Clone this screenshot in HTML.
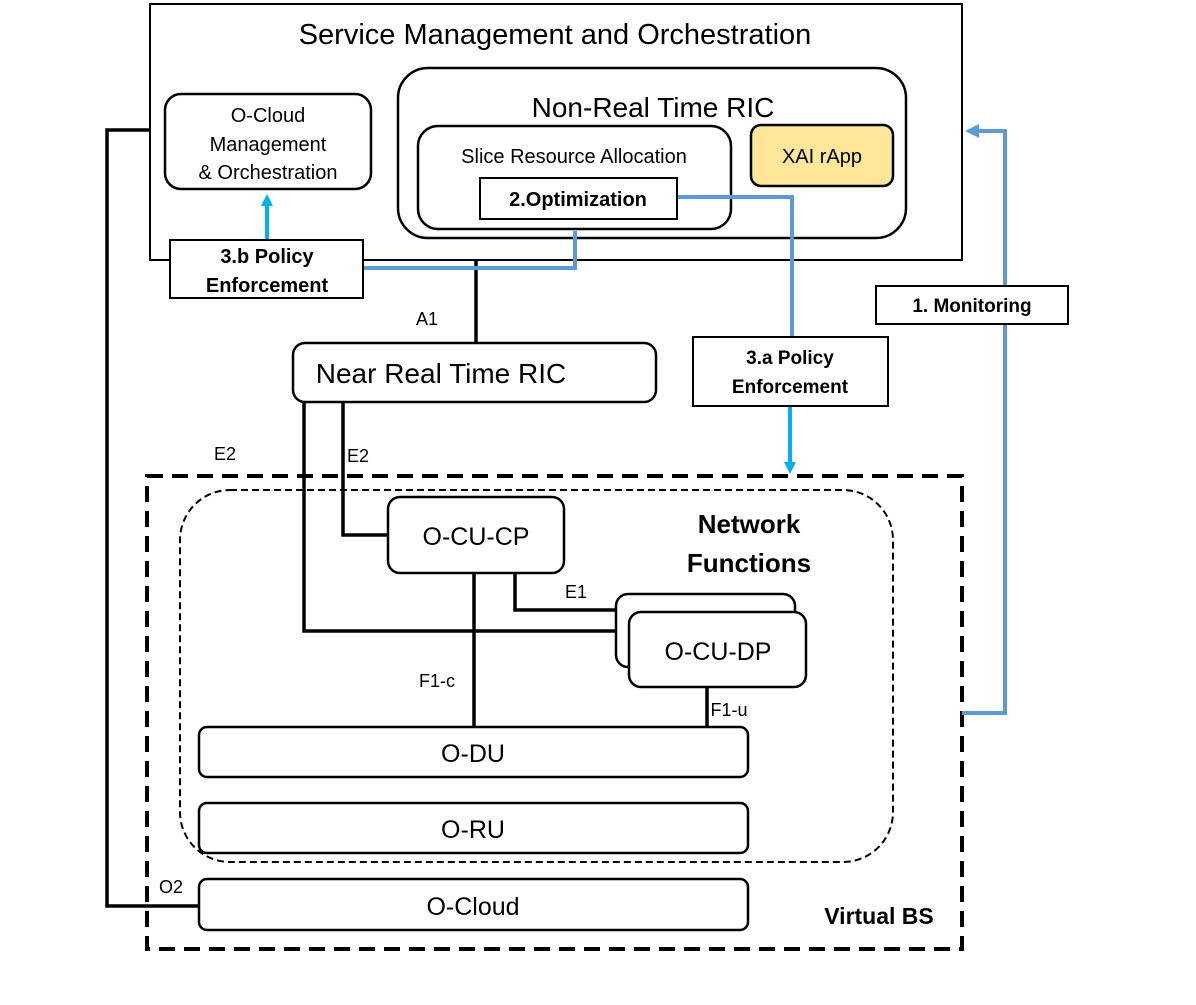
<!DOCTYPE html>
<html><head><meta charset="utf-8"><style>
html,body{margin:0;padding:0;background:#fff;}
svg{display:block;font-family:"Liberation Sans",sans-serif;}
</style></head><body>
<svg width="1196" height="1005" viewBox="0 0 1196 1005" xmlns="http://www.w3.org/2000/svg">
<defs>
<marker id="ac" markerWidth="12" markerHeight="12" refX="6" refY="6" orient="auto" markerUnits="userSpaceOnUse"><path d="M0,0 L12,6 L0,12 z" fill="#00B0F0"/></marker>
<marker id="ab" markerWidth="14" markerHeight="14" refX="7" refY="7" orient="auto" markerUnits="userSpaceOnUse"><path d="M0,0 L14,7 L0,14 z" fill="#5B9BD5"/></marker>
</defs>
<g fill="none" stroke="#000">
<rect x="150" y="4" width="812" height="256" stroke-width="2"/>
<rect x="165" y="94" width="206" height="95" rx="16" stroke-width="2.5"/>
<rect x="398" y="68" width="508" height="170" rx="30" stroke-width="2.5"/>
<rect x="418" y="126" width="313" height="103" rx="20" stroke-width="2.5"/>
<rect x="751" y="125" width="142" height="61" rx="10" fill="#FFE699" stroke-width="2.5"/>
<polyline points="150,130 107,130 107,906 199,906" stroke-width="3.5"/>
<line x1="476" y1="260" x2="476" y2="344" stroke-width="3.5"/>
<rect x="293" y="343" width="363" height="59" rx="12" stroke-width="2.5"/>
<rect x="147" y="476" width="815" height="473" stroke-width="4" stroke-dasharray="16,9"/>
<rect x="180" y="490" width="713" height="372" rx="50" stroke-width="2" stroke-dasharray="7,4"/>
<polyline points="304,402 304,631 617,631" stroke-width="3.5"/>
<polyline points="343,402 343,535 388,535" stroke-width="3.5"/>
<polyline points="515,573 515,610 615,610" stroke-width="3.5"/>
<line x1="474" y1="573" x2="474" y2="727" stroke-width="3.5"/>
<line x1="707" y1="687" x2="707" y2="727" stroke-width="3.5"/>
<rect x="388" y="497" width="176" height="76" rx="12" fill="#fff" stroke-width="2.5"/>
<rect x="616" y="594" width="179" height="73" rx="12" fill="#fff" stroke-width="2.5"/>
<rect x="629" y="612" width="177" height="75" rx="12" fill="#fff" stroke-width="2.5"/>
<rect x="199" y="727" width="549" height="50" rx="8" fill="#fff" stroke-width="2.5"/>
<rect x="199" y="803" width="549" height="50" rx="8" fill="#fff" stroke-width="2.5"/>
<rect x="199" y="879" width="549" height="51" rx="8" fill="#fff" stroke-width="2.5"/>
</g>
<g fill="none" stroke="#5B9BD5" stroke-width="4">
<polyline points="363,268 575,268 575,231"/>
<polyline points="677,197 792,197 792,337"/>
<polyline points="962,713 1005,713 1005,131 972,131" marker-end="url(#ab)"/>
</g>
<g stroke="#00B0F0" stroke-width="4">
<line x1="267" y1="240" x2="267" y2="200" marker-end="url(#ac)"/>
<line x1="790" y1="406" x2="790" y2="468" marker-end="url(#ac)"/>
</g>
<g fill="#fff" stroke="#000" stroke-width="2">
<rect x="480" y="178" width="197" height="41"/>
<rect x="170" y="240" width="193" height="58"/>
<rect x="693" y="337" width="195" height="69"/>
<rect x="876" y="286" width="192" height="38"/>
</g>
<g fill="#000" text-anchor="middle">
<text x="555" y="44" font-size="29">Service Management and Orchestration</text>
<text x="268" y="122" font-size="20">O-Cloud</text>
<text x="268" y="151" font-size="20">Management</text>
<text x="268" y="179" font-size="20">&amp; Orchestration</text>
<text x="653" y="117" font-size="28">Non-Real Time RIC</text>
<text x="574" y="163" font-size="20">Slice Resource Allocation</text>
<text x="578" y="206" font-size="20" font-weight="bold">2.Optimization</text>
<text x="822" y="163" font-size="20">XAI rApp</text>
<text x="267" y="263" font-size="20" font-weight="bold">3.b Policy</text>
<text x="267" y="292" font-size="20" font-weight="bold">Enforcement</text>
<text x="427" y="325" font-size="18">A1</text>
<text x="441" y="383" font-size="28">Near Real Time RIC</text>
<text x="790" y="364" font-size="19" font-weight="bold">3.a Policy</text>
<text x="790" y="393" font-size="19" font-weight="bold">Enforcement</text>
<text x="972" y="312" font-size="19" font-weight="bold">1. Monitoring</text>
<text x="225" y="460" font-size="18">E2</text>
<text x="358" y="462" font-size="18">E2</text>
<text x="476" y="545" font-size="25">O-CU-CP</text>
<text x="749" y="533" font-size="26" font-weight="bold">Network</text>
<text x="749" y="572" font-size="26" font-weight="bold">Functions</text>
<text x="576" y="598" font-size="18">E1</text>
<text x="718" y="660" font-size="25">O-CU-DP</text>
<text x="437" y="687" font-size="18">F1-c</text>
<text x="729" y="716" font-size="18">F1-u</text>
<text x="473" y="762" font-size="25">O-DU</text>
<text x="473" y="838" font-size="25">O-RU</text>
<text x="473" y="915" font-size="25">O-Cloud</text>
<text x="171" y="893" font-size="18">O2</text>
<text x="879" y="924" font-size="23" font-weight="bold">Virtual BS</text>
</g>
</svg>
</body></html>
